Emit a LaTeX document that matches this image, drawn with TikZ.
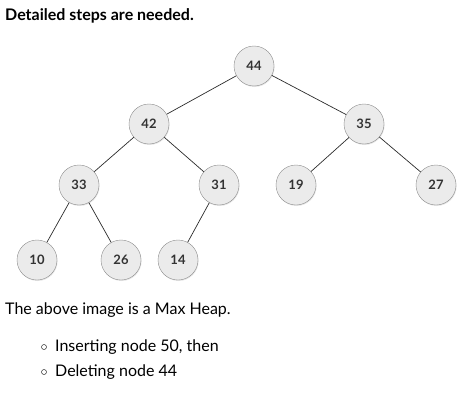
\documentclass[tikz,border=0pt]{standalone}
\usepackage{fontspec}
\setmainfont{Lato}
\usepackage{tikz}
\usetikzlibrary{positioning,shapes,shadows,calc}
\definecolor{hpFill}{HTML}{EBEBEB}
\definecolor{hpBorder}{HTML}{8E8E8E}
\definecolor{hpText}{HTML}{333333}
\definecolor{hpEdge}{HTML}{2B2B2B}
\tikzset{
    hpNodeBase/.style={
        circle,
        draw=hpBorder,
        fill=hpFill,
        minimum size=40pt,
        inner sep=0pt,
        font=\fontsize{13}{15}\selectfont\bfseries,
        text=hpText,
        drop shadow={shadow xshift=0.6pt, shadow yshift=-1pt, opacity=0.2}
    },
    % Text blocks
    hpTitle/.style={anchor=west, font=\fontsize{16}{19}\selectfont\bfseries, inner sep=0pt},
    hpPlain/.style={anchor=west, font=\fontsize{16}{19}\selectfont, inner sep=0pt},
    % Edges
    hpEdgeBase/.style={draw=hpEdge, line width=0.7pt}
}
\begin{document}
\begin{tikzpicture}[x=1pt, y=-1pt]
\useasboundingbox (0,0) rectangle (465,404);
\node[hpTitle] (title) at (5,16) {Detailed steps are needed.};

\node[hpNodeBase] (n44) at (254,66) {44};
\node[hpNodeBase] (n42) at (149,124) {42};
\node[hpNodeBase] (n35) at (364,124) {35};
\node[hpNodeBase] (n33) at (79,185) {33};
\node[hpNodeBase] (n31) at (219,185) {31};
\node[hpNodeBase] (n19) at (296,185) {19};
\node[hpNodeBase] (n27) at (436,185) {27};
\node[hpNodeBase] (n10) at (37,260) {10};
\node[hpNodeBase] (n26) at (121,260) {26};
\node[hpNodeBase] (n14) at (178,260) {14};

\draw[hpEdgeBase] (n44) -- (n42);
\draw[hpEdgeBase] (n44) -- (n35);
\draw[hpEdgeBase] (n42) -- (n33);
\draw[hpEdgeBase] (n42) -- (n31);
\draw[hpEdgeBase] (n35) -- (n19);
\draw[hpEdgeBase] (n35) -- (n27);
\draw[hpEdgeBase] (n33) -- (n10);
\draw[hpEdgeBase] (n33) -- (n26);
\draw[hpEdgeBase] (n31) -- (n14);

\node[hpPlain] (caption) at (5,310) {The above image is a Max Heap.};
\node[hpPlain] (step1) at (55,347) {Inserting node 50, then};
\node[hpPlain] (step2) at (55,372) {Deleting node 44};
\draw[hpEdgeBase, line width=0.5pt] ($(step1.west)+(-11,0)$) circle (2.5pt);
\draw[hpEdgeBase, line width=0.5pt] ($(step2.west)+(-11,0)$) circle (2.5pt);
\end{tikzpicture}
\end{document}
